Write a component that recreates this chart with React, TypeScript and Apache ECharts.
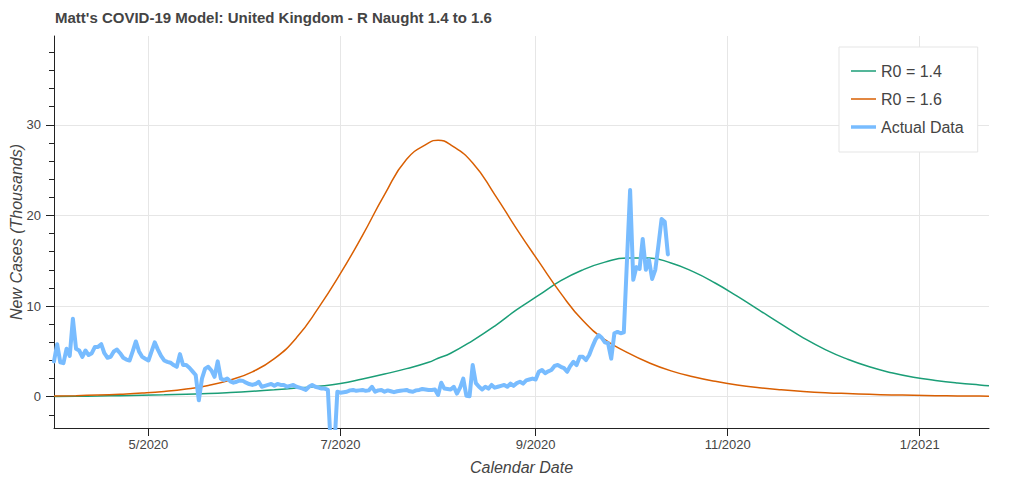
import React, { useEffect, useRef } from "react";
import * as echarts from "echarts";

const TITLE = "Matt's COVID-19 Model: United Kingdom - R Naught 1.4 to 1.6";
const START_DATE = "2020-04-01";
const AXIS_END_DATE = "2021-01-23";

// Daily actual new cases (thousands) starting at START_DATE
const actualValues = [
  3.9, 5.8, 3.8, 3.7, 5.3, 4.5, 8.6, 5.3, 5.1, 4.4,
  5.1, 4.6, 4.8, 5.5, 5.5, 5.8, 4.8, 4.3, 4.4, 5.0,
  5.2, 4.8, 4.3, 4.1, 4.0, 5.0, 6.1, 5.0, 4.4, 4.2,
  4.0, 5.0, 6.0, 5.2, 4.5, 4.0, 3.85, 3.75, 3.5, 3.3,
  4.7, 3.5, 3.5, 3.2, 2.8, 2.4, -0.4, 2.0, 3.1, 3.3,
  2.9, 2.2, 3.9, 2.0, 1.85, 2.0, 1.7, 1.55, 1.65, 1.8,
  1.75, 1.55, 1.4, 1.3, 1.4, 1.65, 1.1, 1.2, 1.3, 1.4,
  1.2, 1.4, 1.3, 1.3, 1.1, 1.2, 1.3, 1.1, 1.0, 0.9,
  0.75, 1.1, 1.3, 1.1, 1.0, 0.9, 0.9, 0.75, -6, -6,
  0.55, 0.45, 0.5, 0.55, 0.7, 0.75, 0.65, 0.7, 0.75, 0.65,
  0.7, 1.1, 0.55, 0.7, 0.75, 0.55, 0.7, 0.6, 0.5, 0.6,
  0.65, 0.7, 0.75, 0.6, 0.55, 0.7, 0.75, 0.85, 0.8, 0.75,
  0.75, 0.8, 0.2, 1.55, 0.9, 0.85, 0.8, 1.1, 0.35, 1.0,
  2.0, 0.1, 0.05, 3.5, 1.5, 1.1, 0.8, 1.1, 0.9, 1.3,
  1.0, 1.1, 1.2, 1.3, 1.1, 1.45, 1.2, 1.5, 1.65, 1.45,
  1.8, 1.9, 2.0, 1.9, 2.75, 2.95, 2.6, 2.8, 2.95, 3.4,
  3.5, 3.3, 3.15, 2.75, 3.4, 3.85, 3.5, 4.4, 4.4, 4.05,
  4.6, 5.5, 6.3, 6.8, 6.5, 6.0, 5.9, 4.2, 7.0, 7.15,
  7.0, 7.1, 15.0, 22.8, 12.9, 14.3, 14.1, 17.4, 14.0, 15.1,
  13.0, 14.0, 16.7, 19.6, 19.3, 15.7,
];

// Model curves sampled roughly weekly (day offsets from START_DATE)
const modelDays = [
  0, 7, 14, 21, 28, 35, 42, 49, 56, 63, 70, 77, 84, 91, 98, 105, 112, 119, 122,
  126, 133, 140, 147, 154, 161, 168, 175, 182, 189, 196, 203, 210, 217, 224,
  231, 238, 245, 252, 259, 266, 273, 280, 287, 294, 297,
];
const r14Values = [
  0.03, 0.05, 0.08, 0.12, 0.16, 0.21, 0.28, 0.35, 0.46, 0.6, 0.76, 0.95, 1.15,
  1.45, 1.95, 2.5, 3.1, 3.8, 4.25, 4.8, 6.2, 7.8, 9.6, 11.2, 12.8, 14.0, 14.85,
  15.3, 15.3, 14.75, 13.8, 12.55, 11.1, 9.55, 8.0, 6.5, 5.2, 4.15, 3.3, 2.65,
  2.15, 1.8, 1.52, 1.3, 1.22,
];
const r16Values = [
  0.07, 0.12, 0.19, 0.28, 0.4, 0.58, 0.85, 1.25, 1.85, 2.75, 4.2, 6.5, 9.8,
  13.6, 17.8, 22.3, 26.2, 28.0, 28.3, 27.8, 25.8, 22.3, 18.5, 14.9, 11.4, 8.4,
  6.3, 4.9, 3.75, 2.85, 2.2, 1.7, 1.3, 1.0, 0.77, 0.59, 0.45, 0.35, 0.27, 0.2,
  0.16, 0.12, 0.09, 0.07, 0.065,
];

const xTickDates = ["2020-05-01", "2020-07-01", "2020-09-01", "2020-11-01", "2021-01-01"];
const yLabelValues = [0, 10, 20, 30];
const yMinorTicks = [-2, 0, 2, 4, 6, 8, 10, 12, 14, 16, 18, 20, 22, 24, 26, 28, 30, 32, 34, 36, 38];
const Y_MIN = -3.45;
const Y_MAX = 39.8;

const GREEN = "#1b9e77";
const ORANGE = "#d95f02";
const BLUE = "#78bcff";
const GRID = "#e6e6e6";
const AXIS = "#222";
const TEXT = "#444";
const FONT = "'Liberation Sans', Arial, sans-serif";

const toTime = (s: string, addDays = 0) => {
  const [y, m, d] = s.split("-").map(Number);
  return new Date(y, m - 1, d + addDays).getTime();
};

export default function App() {
  const ref = useRef<HTMLDivElement>(null);

  useEffect(() => {
    document.body.style.margin = "0";
    if (!ref.current) return;
    const chart = echarts.init(ref.current, undefined, { renderer: "svg" });

    const actualData = actualValues.map((v, i) => [toTime(START_DATE, i), v]);
    const r14Data = modelDays.map((d, i) => [toTime(START_DATE, d), r14Values[i]]);
    const r16Data = modelDays.map((d, i) => [toTime(START_DATE, d), r16Values[i]]);
    const xTicks = xTickDates.map((s) => toTime(s));

    const thinIcon = "path://M0,0 H25 V1.5 H0 Z";
    const thickIcon = "path://M0,0 H25 V3.5 H0 Z";

    chart.setOption({
      animation: false,
      textStyle: { fontFamily: FONT },
      title: {
        text: TITLE,
        left: 50,
        top: 5,
        textStyle: { fontFamily: FONT, fontSize: 15, fontWeight: "bold", color: TEXT },
      },
      grid: {
        left: 54,
        right: 35,
        top: 36,
        bottom: 54,
        containLabel: false,
        outerBoundsMode: "none",
      },
      legend: {
        orient: "vertical",
        left: 839,
        top: 47,
        padding: [15, 14, 16, 12],
        itemWidth: 25,
        itemHeight: 14,
        itemGap: 10,
        backgroundColor: "#fff",
        borderColor: "#e5e5e5",
        borderWidth: 1,
        textStyle: { fontFamily: FONT, fontSize: 16, color: TEXT, lineHeight: 18 },
        data: [
          { name: "R0 = 1.4", icon: thinIcon },
          { name: "R0 = 1.6", icon: thinIcon },
          { name: "Actual Data", icon: thickIcon },
        ],
      },
      xAxis: {
        type: "value",
        min: toTime(START_DATE),
        max: toTime(AXIS_END_DATE),
        name: "Calendar Date",
        nameLocation: "middle",
        nameGap: 31,
        nameMoveOverlap: false,
        nameTextStyle: { fontFamily: FONT, fontStyle: "italic", fontSize: 16, color: TEXT },
        axisLine: { show: true, onZero: false, lineStyle: { color: AXIS, width: 1 } },
        axisTick: { show: true, length: 8, customValues: xTicks, lineStyle: { color: AXIS } },
        axisLabel: {
          customValues: xTicks,
          fontSize: 13,
          color: TEXT,
          margin: 10,
          formatter: (v: number) => {
            const d = new Date(v);
            return `${d.getMonth() + 1}/${d.getFullYear()}`;
          },
        },
        splitLine: { show: false },
      },
      yAxis: [
        {
          type: "value",
          min: Y_MIN,
          max: Y_MAX,
          position: "left",
          name: "New Cases (Thousands)",
          nameLocation: "middle",
          nameGap: 30,
          nameMoveOverlap: false,
          nameTextStyle: { fontFamily: FONT, fontStyle: "italic", fontSize: 16, color: TEXT },
          axisLine: { show: true, onZero: false, lineStyle: { color: AXIS, width: 1 } },
          axisTick: { show: true, length: 8, customValues: yLabelValues, lineStyle: { color: AXIS } },
          axisLabel: { customValues: yLabelValues, fontSize: 13, color: TEXT, margin: 13 },
          splitLine: { show: true, lineStyle: { color: GRID, width: 1 } },
        },
        {
          type: "value",
          min: Y_MIN,
          max: Y_MAX,
          position: "left",
          axisLine: { show: false },
          axisLabel: { show: false },
          splitLine: { show: false },
          axisTick: { show: true, length: 5, customValues: yMinorTicks, lineStyle: { color: AXIS } },
        },
      ],
      series: [
        {
          name: "R0 = 1.4",
          type: "line",
          data: r14Data,
          showSymbol: false,
          symbol: "none",
          smooth: 0.5,
          lineStyle: { color: GREEN, width: 1.5 },
          itemStyle: { color: GREEN },
          z: 3,
          markLine: {
            silent: true,
            symbol: ["none", "none"],
            label: { show: false },
            z: 1,
            lineStyle: { color: GRID, width: 1, type: "solid" },
            emphasis: { disabled: true },
            data: xTicks.map((t) => ({ xAxis: t })),
          },
        },
        {
          name: "R0 = 1.6",
          type: "line",
          data: r16Data,
          showSymbol: false,
          symbol: "none",
          smooth: 0.5,
          lineStyle: { color: ORANGE, width: 1.5 },
          itemStyle: { color: ORANGE },
          z: 3,
        },
        {
          name: "Actual Data",
          type: "line",
          data: actualData,
          showSymbol: false,
          symbol: "none",
          lineStyle: { color: BLUE, width: 4, join: "round", cap: "round" },
          itemStyle: { color: BLUE },
          z: 4,
        },
      ],
    });

    return () => chart.dispose();
  }, []);

  return <div ref={ref} style={{ width: 1024, height: 482 }} />;
}
